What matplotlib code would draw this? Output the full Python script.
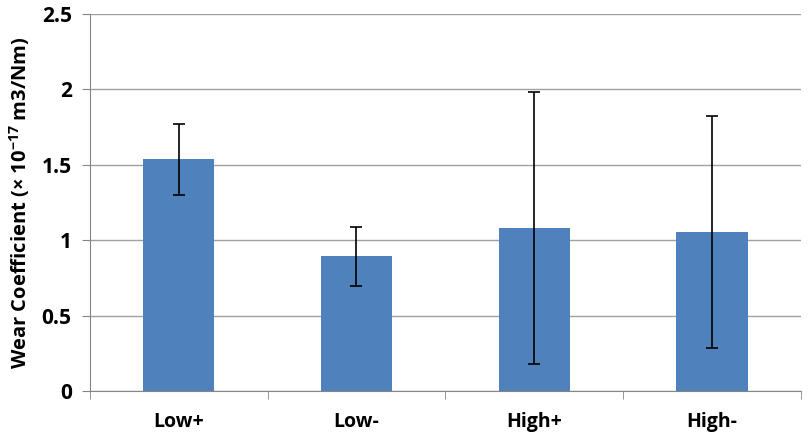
import numpy as np
from matplotlib import pyplot as plt

categories = ["Low+", "Low-", "High+", "High-"]
wear = [1.535, 0.892, 1.080, 1.055]
wear_err = [0.238, 0.193, 0.900, 0.768]

plt.rcParams['font.family'] = ['Open Sans', 'DejaVu Sans']
plt.rcParams['font.weight'] = 'bold'
plt.rcParams['mathtext.fontset'] = 'custom'
plt.rcParams['mathtext.rm'] = 'Open Sans:bold'
plt.rcParams['mathtext.bf'] = 'Open Sans:bold'

fig = plt.figure(figsize=(8.09, 4.34), dpi=100)
ax = fig.add_axes([0.111, 0.099, 0.879, 0.869])

x = np.arange(len(categories))
ax.bar(x, wear, width=0.4, color="#4F81BD", zorder=2)
ax.errorbar(x, wear, yerr=wear_err, fmt='none', ecolor='black',
            elinewidth=1.2, capsize=4.5, capthick=1.2, zorder=3)

# Settings
ax.set_xlim(-0.5, 3.5)
ax.set_ylim(0, 2.5)
ax.set_yticks([0, 0.5, 1, 1.5, 2, 2.5])
ax.set_yticklabels(["0", "0.5", "1", "1.5", "2", "2.5"], fontsize=15, fontweight='bold')
ax.set_xticks(x)
ax.set_xticklabels(categories, fontsize=14, fontweight='bold')
ax.set_xticks(np.arange(-0.5, 4.0, 1.0), minor=True)
ax.tick_params(axis='x', which='major', length=0, pad=15)
ax.tick_params(axis='x', which='minor', length=6, color='#868686', direction='out')
ax.tick_params(axis='y', length=6, color='#868686', pad=7)

ax.grid(axis='y', color='#a0a0a0', linewidth=1.0, zorder=0)
ax.set_axisbelow(True)
for s in ['top', 'right']:
    ax.spines[s].set_visible(False)
for s in ['left', 'bottom']:
    ax.spines[s].set_color('#868686')

ax.set_ylabel(r"Wear Coefficient (× 10$^{-17}$ m3/Nm)", fontsize=14.5, fontweight='bold', labelpad=7)

plt.savefig("out.png", dpi=100)
